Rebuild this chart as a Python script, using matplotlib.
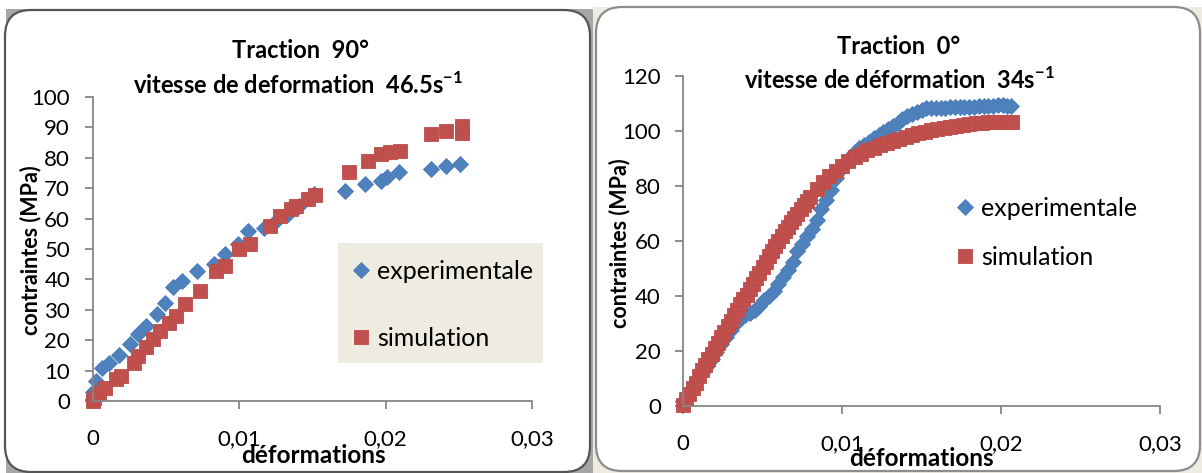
import matplotlib
matplotlib.use("Agg")
import matplotlib.pyplot as plt
from matplotlib.patches import FancyBboxPatch, Rectangle

plt.rcParams["font.family"] = ["Lato", "DejaVu Sans"]
plt.rcParams["mathtext.fontset"] = "custom"
plt.rcParams["mathtext.rm"] = "Lato"
plt.rcParams["mathtext.bf"] = "Lato:bold"

BLUE, BLUE_EDGE = "#4F81BD", "#4A7EBB"
RED, RED_EDGE = "#C0504D", "#BE4B48"
AXIS_GREY = "#868686"

# --- left chart : traction 90 deg ---
eps90_exp = [0.0, 0.0, 0.0002, 0.0006, 0.0011, 0.0018, 0.0025, 0.0031, 0.0036,
             0.0044, 0.0049, 0.0055, 0.0061, 0.0071, 0.0083, 0.0090, 0.0099,
             0.0106, 0.0117, 0.0125, 0.0133, 0.0141, 0.0151, 0.0172, 0.0186,
             0.0197, 0.0201, 0.0209, 0.0231, 0.0241, 0.0251]
sig90_exp = [0.5, 3.0, 6.6, 11.0, 12.6, 15.0, 18.7, 22.0, 24.7,
             28.6, 32.4, 37.4, 39.6, 42.9, 45.0, 48.4, 51.6,
             56.0, 57.0, 59.3, 61.5, 64.3, 68.0, 69.2, 71.4,
             72.5, 73.6, 75.3, 76.4, 77.3, 78.0]

eps90_sim = [0.0, 0.0001, 0.0004, 0.0008, 0.0016, 0.0019, 0.0028, 0.0031,
             0.0036, 0.0041, 0.0046, 0.0052, 0.0057, 0.0063, 0.0073, 0.0084,
             0.0090, 0.0100, 0.0107, 0.0121, 0.0128, 0.0135, 0.0139, 0.0147,
             0.0152, 0.0175, 0.0188, 0.0197, 0.0203, 0.0210, 0.0231, 0.0241,
             0.0252, 0.0252]
sig90_sim = [0.0, 1.0, 2.7, 4.4, 7.1, 8.2, 12.6, 14.8,
             17.6, 20.3, 23.0, 25.8, 28.0, 31.9, 36.3, 42.9,
             44.5, 50.0, 51.6, 57.7, 61.0, 63.2, 64.3, 66.5,
             67.6, 75.3, 79.0, 81.3, 81.9, 82.4, 87.9, 88.8,
             88.0, 90.3]

# --- right chart : traction 0 deg ---
eps0_exp = [0.0000, 0.0003, 0.0006, 0.0009, 0.0012, 0.0015, 0.0018, 0.0021,
            0.0024, 0.0027, 0.0030, 0.0033, 0.0036, 0.0039, 0.0042, 0.0045,
            0.0048, 0.0051, 0.0054, 0.0057, 0.0060, 0.0063, 0.0066, 0.0069,
            0.0072, 0.0075, 0.0078, 0.0081, 0.0084, 0.0087, 0.0090, 0.0093,
            0.0096, 0.0099, 0.0102, 0.0105, 0.0108, 0.0111, 0.0114, 0.0117,
            0.0120, 0.0123, 0.0126, 0.0129, 0.0132, 0.0135, 0.0138, 0.0141,
            0.0144, 0.0147, 0.0150, 0.0153, 0.0156, 0.0159, 0.0162, 0.0165,
            0.0168, 0.0171, 0.0174, 0.0177, 0.0180, 0.0183, 0.0186, 0.0189,
            0.0192, 0.0195, 0.0198, 0.0201, 0.0204, 0.0206]
sig0_exp = [2.0, 4.5, 7.0, 9.5, 12.0, 14.5, 17.0, 19.5,
            22.5, 25.0, 27.5, 30.0, 31.8, 33.0, 34.0, 35.0,
            36.5, 38.5, 40.0, 42.0, 44.5, 47.0, 49.5, 52.5,
            56.5, 59.0, 62.0, 64.5, 67.5, 71.5, 75.0, 78.5,
            83.0, 86.0, 88.5, 90.7, 92.5, 94.0, 95.0, 96.0,
            97.3, 98.6, 99.8, 100.8, 102.0, 103.0, 104.2, 105.3,
            106.3, 107.0, 107.6, 108.2, 108.4, 108.5, 108.5, 108.5,
            108.6, 108.6, 108.7, 108.7, 108.8, 108.9, 109.0, 109.0,
            109.1, 109.2, 109.3, 109.3, 109.2, 109.0]

eps0_sim = [0.0000, 0.0002, 0.0004, 0.0006, 0.0008, 0.0010, 0.0012, 0.0014,
            0.0016, 0.0018, 0.0020, 0.0022, 0.0024, 0.0026, 0.0028, 0.0030,
            0.0032, 0.0034, 0.0036, 0.0038, 0.0040, 0.0042, 0.0044, 0.0046,
            0.0048, 0.0050, 0.0052, 0.0054, 0.0056, 0.0058, 0.0060, 0.0062,
            0.0064, 0.0066, 0.0068, 0.0070, 0.0072, 0.0074, 0.0076, 0.0078,
            0.0080, 0.0084, 0.0088, 0.0092,
            0.0096, 0.0100, 0.0104, 0.0108, 0.0112, 0.0116, 0.0120, 0.0124,
            0.0128, 0.0132, 0.0136, 0.0140, 0.0144, 0.0148, 0.0152, 0.0156,
            0.0160, 0.0164, 0.0168, 0.0172, 0.0176, 0.0180, 0.0184, 0.0188,
            0.0192, 0.0196, 0.0200, 0.0204, 0.0207]
sig0_sim = [0.5, 2.5, 4.5, 6.5, 8.5, 10.8, 13.0, 15.0,
            17.0, 19.0, 21.0, 23.0, 25.0, 27.0, 29.0, 31.0,
            33.0, 35.0, 37.0, 38.8, 40.5, 42.5, 44.5, 46.5,
            48.5, 50.5, 52.5, 54.5, 56.5, 58.3, 60.0, 61.8,
            63.5, 65.2, 66.8, 68.4, 70.0, 71.5, 73.0, 74.5,
            76.0, 79.0, 81.5, 83.5,
            85.5, 87.3, 89.0, 90.5, 91.8, 93.0, 94.0, 95.0,
            95.8, 96.5, 97.2, 97.8, 98.5, 99.2, 99.8, 100.3,
            100.8, 101.2, 101.6, 102.0, 102.3, 102.6, 102.8, 103.0,
            103.1, 103.2, 103.3, 103.3, 103.3]

x_ticks = [0, 0.01, 0.02, 0.03]
x_tick_labels = ["0", "0,01", "0,02", "0,03"]
y_ticks_90 = list(range(0, 101, 10))
y_ticks_0 = list(range(0, 121, 20))

W, H = 1202, 473
fig = plt.figure(figsize=(W / 100, H / 100), dpi=100)


def px_rect(x0, y0, x1, y1):
    # pixel box (top-left origin) -> figure fraction
    return [x0 / W, 1 - y1 / H, (x1 - x0) / W, (y1 - y0) / H]


# panel backgrounds and rounded frames
fig.patches.append(Rectangle((6 / W, 0), 587 / W, 1 - 9 / H, transform=fig.transFigure,
                             facecolor="#A6A6A6", edgecolor="none", zorder=-3))
fig.patches.append(Rectangle((593 / W, 0), 1 - 593 / W, 1 - 7 / H, transform=fig.transFigure,
                             facecolor="#EEECE1", edgecolor="none", zorder=-3))
for (x0, y0, x1, y1, ec) in [(5, 10, 590, 472, "#555555"), (596, 7, 1200, 471, "#8C8C8C")]:
    fig.patches.append(FancyBboxPatch((x0 / 100, (H - y1) / 100), (x1 - x0) / 100, (y1 - y0) / 100,
                                      boxstyle="round,pad=0,rounding_size=0.26",
                                      transform=fig.dpi_scale_trans, facecolor="white",
                                      edgecolor=ec, linewidth=1.6, zorder=-2))


def style_axes(ax, yticks, ylim, tick_len, xpad, ypad):
    ax.set_facecolor("none")
    ax.set_xlim(0, 0.03)
    ax.set_ylim(*ylim)
    for s in ["top", "right"]:
        ax.spines[s].set_visible(False)
    for s in ["left", "bottom"]:
        ax.spines[s].set_color(AXIS_GREY)
        ax.spines[s].set_linewidth(1.3)
    ax.set_xticks(x_ticks, x_tick_labels)
    ax.set_yticks(yticks)
    ax.tick_params(axis="both", colors=AXIS_GREY, labelcolor="black", labelsize=16,
                   direction="out", length=tick_len, width=1.3)
    ax.tick_params(axis="x", pad=xpad)
    ax.tick_params(axis="y", pad=ypad)


# left axes
ax1 = fig.add_axes(px_rect(93, 97, 532, 401))
style_axes(ax1, y_ticks_90, (0, 100), 5.5, 14.5, 11)
ax1.plot(eps90_exp, sig90_exp, ls="none", marker="D", ms=8, mfc=BLUE, mec=BLUE_EDGE,
         mew=0.6, clip_on=False, label="experimentale")
ax1.plot(eps90_sim, sig90_sim, ls="none", marker="s", ms=10.3, mfc=RED, mec=RED_EDGE,
         mew=0.6, clip_on=False, label="simulation")

# right axes
ax2 = fig.add_axes(px_rect(683, 76, 1160, 406))
style_axes(ax2, y_ticks_0, (0, 120), 6, 14, 10)
ax2.plot(eps0_exp, sig0_exp, ls="none", marker="D", ms=8, mfc=BLUE, mec=BLUE_EDGE,
         mew=0.6, clip_on=False, label="experimentale")
ax2.plot(eps0_sim, sig0_sim, ls="none", marker="s", ms=10.3, mfc=RED, mec=RED_EDGE,
         mew=0.6, clip_on=False, label="simulation")

# legends
fig.patches.append(Rectangle((338 / W, 1 - 363 / H), 205 / W, 120 / H, transform=fig.transFigure,
                             facecolor="#EEECE1", edgecolor="none", zorder=-1))
leg_kw = dict(frameon=False, fontsize=18, handlelength=0.6, handletextpad=0.35,
              numpoints=1, borderaxespad=0, borderpad=0)
ax1.legend(loc="center left", bbox_to_anchor=(353 / W, 1 - 305 / H),
           bbox_transform=fig.transFigure, labelspacing=1.75, **leg_kw)
ax2.legend(loc="center left", bbox_to_anchor=(957 / W, 1 - 233 / H),
           bbox_transform=fig.transFigure, labelspacing=1.05, **leg_kw)

# titles and axis labels
def ftext(x, y, s, **kw):
    fig.text(x / W, 1 - y / H, s, ha="center", va="center", fontweight="bold", **kw)


ftext(300, 51, "Traction  90°", fontsize=17)
ftext(298, 85, r"vitesse de deformation  46.5s$^{\mathbf{-1}}$", fontsize=17)
ftext(899, 47, "Traction  0°", fontsize=17)
ftext(899, 80, r"vitesse de déformation  34s$^{\mathbf{-1}}$", fontsize=17)
ftext(313, 455, "déformations", fontsize=17.5)
ftext(921, 458, "déformations", fontsize=17.5)
ftext(31, 250, "contraintes (MPa)", fontsize=15.5, rotation=90)
ftext(620, 243, "contraintes (MPa)", fontsize=15.5, rotation=90)

fig.savefig("out.png", dpi=100)
